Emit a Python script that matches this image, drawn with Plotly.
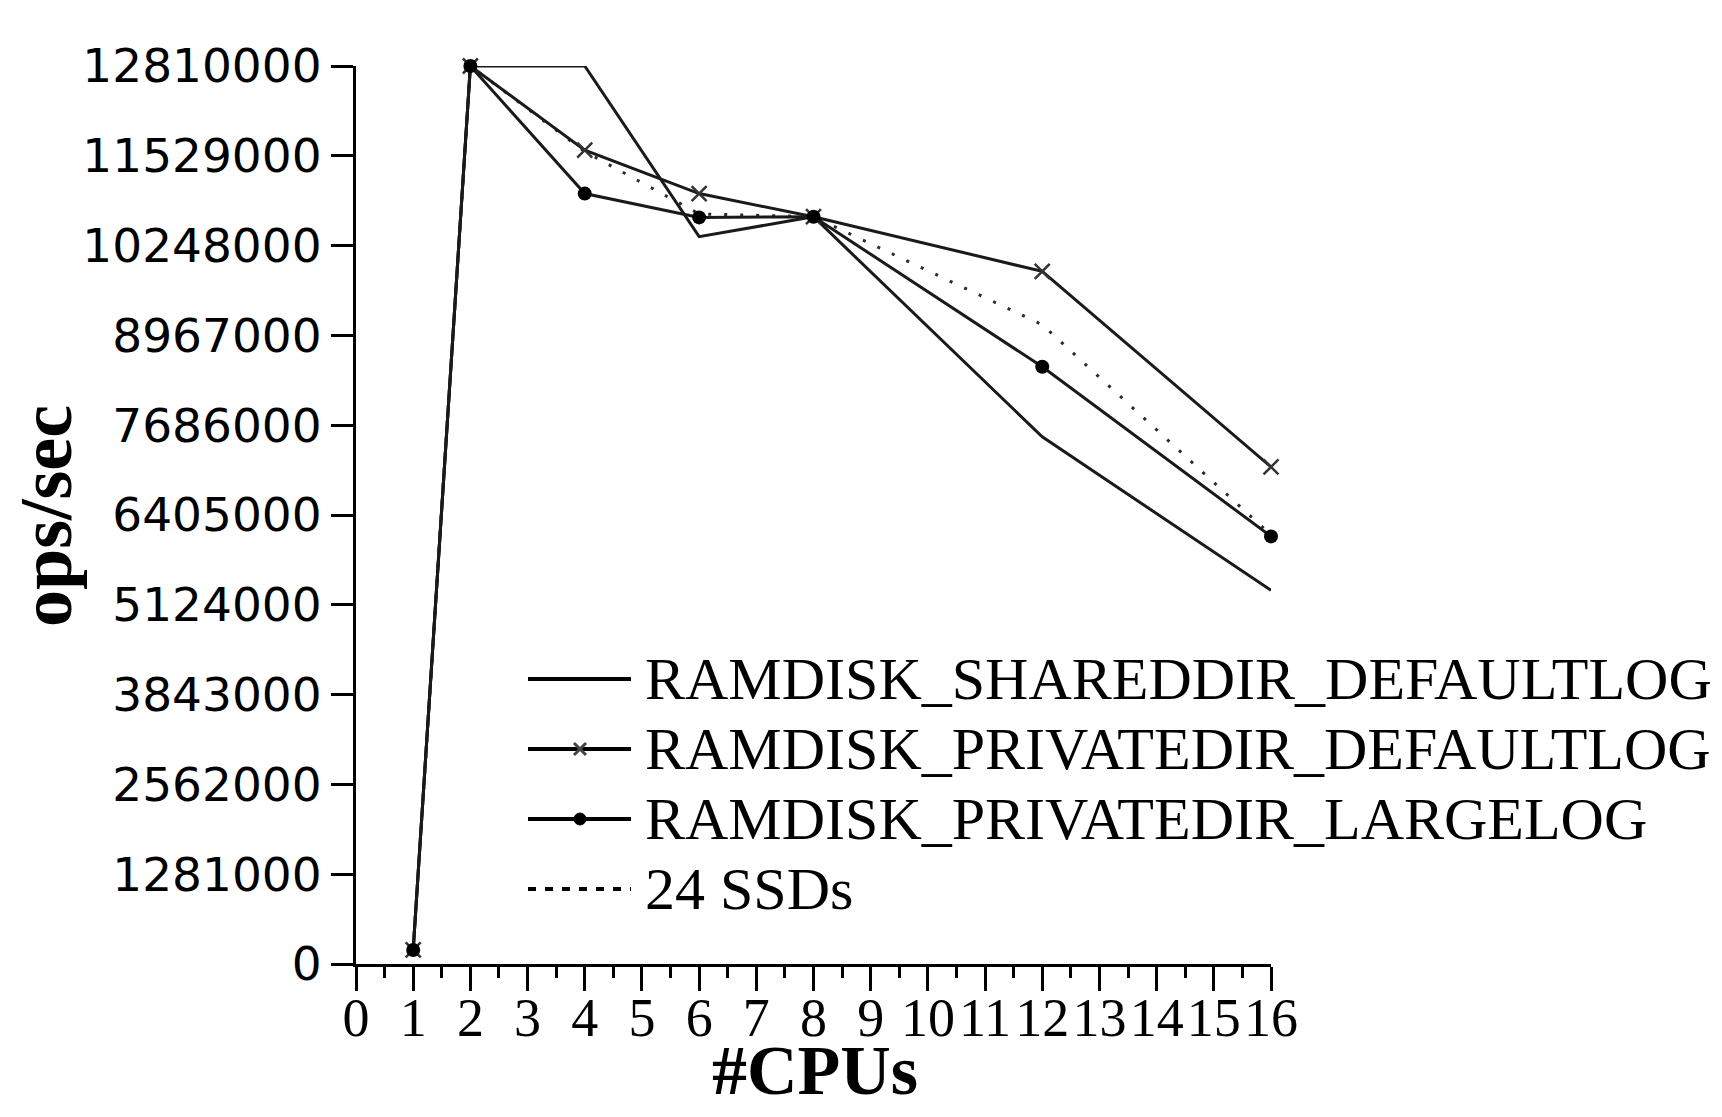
import plotly.graph_objects as go

# Throughput (ops/sec) measured at each CPU count
cpus = [1, 2, 4, 6, 8, 12, 16]
shareddir_defaultlog = [200000, 12810000, 12810000, 10375000, 10660000, 7520000, 5330000]
privatedir_defaultlog = [200000, 12810000, 11610000, 10990000, 10660000, 9880000, 7090000]
privatedir_largelog = [200000, 12810000, 10990000, 10650000, 10660000, 8520000, 6100000]
ssds_24 = [200000, 12810000, 11590000, 10700000, 10660000, 9120000, 6120000]

series_names = [
    "RAMDISK_SHAREDDIR_DEFAULTLOG",
    "RAMDISK_PRIVATEDIR_DEFAULTLOG",
    "RAMDISK_PRIVATEDIR_LARGELOG",
    "24 SSDs",
]

y_tickvals = [0, 1281000, 2562000, 3843000, 5124000, 6405000,
              7686000, 8967000, 10248000, 11529000, 12810000]
y_ticktext = [str(v) for v in y_tickvals]
x_tickvals = list(range(0, 17))
x_ticktext = [str(v) for v in x_tickvals]

# page geometry (pixels)
W, H = 1722, 1117
L, R, T, B = 356, 451, 66, 153
PW, PH = W - L - R, H - T - B

SERIF = "Liberation Serif, Times New Roman, serif"
SANS = "DejaVu Sans, Verdana, sans-serif"
LINE = "#1a1a1a"


def px(xp):
    return (xp - L) / PW


def py(yp):
    return (T + PH - yp) / PH


fig = go.Figure()

fig.add_trace(go.Scatter(
    x=cpus, y=shareddir_defaultlog, name=series_names[0], mode="lines",
    line=dict(color=LINE, width=3), showlegend=False))
fig.add_trace(go.Scatter(
    x=cpus, y=ssds_24, name=series_names[3], mode="lines",
    line=dict(color="#2a2a2a", width=3, dash="3px,13px"), showlegend=False))
fig.add_trace(go.Scatter(
    x=cpus, y=privatedir_defaultlog, name=series_names[1], mode="lines+markers",
    line=dict(color=LINE, width=3),
    marker=dict(symbol="x-thin", size=15, line=dict(color="#333333", width=2.5)),
    cliponaxis=False, showlegend=False))
fig.add_trace(go.Scatter(
    x=cpus, y=privatedir_largelog, name=series_names[2], mode="lines+markers",
    line=dict(color=LINE, width=3),
    marker=dict(symbol="circle", size=14, color="black"),
    cliponaxis=False, showlegend=False))

# legend: sample line + label for each series
legend_rows = [679, 749, 819, 889]
sample_x0, sample_x1, sample_mid = 528, 631, 580
shapes = []
annotations = []
for i, name in enumerate(series_names):
    yy = legend_rows[i]
    dash = "8px,9px" if i == 3 else "solid"
    shapes.append(dict(type="line", xref="paper", yref="paper",
                       x0=px(sample_x0), x1=px(sample_x1), y0=py(yy), y1=py(yy),
                       line=dict(color="black", width=4, dash=dash)))
    annotations.append(dict(xref="paper", yref="paper", x=px(643), y=py(yy),
                            xanchor="left", yanchor="middle", showarrow=False,
                            text=name, font=dict(family=SERIF, size=60, color="black")))

# legend marker glyphs
s = 6
xm, ym = sample_mid, legend_rows[1]
shapes.append(dict(type="path", xref="paper", yref="paper",
                   path=(f"M {px(xm - s)},{py(ym - s)} L {px(xm + s)},{py(ym + s)} "
                         f"M {px(xm - s)},{py(ym + s)} L {px(xm + s)},{py(ym - s)}"),
                   line=dict(color="#444444", width=3)))
r = 6
xm, ym = sample_mid, legend_rows[2]
shapes.append(dict(type="circle", xref="paper", yref="paper",
                   x0=px(xm - r), x1=px(xm + r), y0=py(ym + r), y1=py(ym - r),
                   fillcolor="black", line=dict(color="black", width=1)))

# axis titles
annotations.append(dict(xref="paper", yref="paper", x=px(46), y=py(516),
                        xanchor="center", yanchor="middle", showarrow=False,
                        textangle=-90, text="ops/sec",
                        font=dict(family=SERIF, size=74, color="black", weight="bold")))
annotations.append(dict(xref="paper", yref="paper", x=px(815), y=py(1070),
                        xanchor="center", yanchor="middle", showarrow=False,
                        text="#CPUs",
                        font=dict(family=SERIF, size=70, color="black", weight="bold")))

fig.update_layout(
    width=W, height=H,
    margin=dict(l=L, r=R, t=T, b=B, pad=0),
    paper_bgcolor="white", plot_bgcolor="white",
    showlegend=False,
    shapes=shapes, annotations=annotations,
    xaxis=dict(
        range=[0, 16], tickmode="array", tickvals=x_tickvals, ticktext=x_ticktext,
        tickangle=0, ticklabelstandoff=-20,
        showgrid=False, zeroline=False, showline=True, linecolor="black", linewidth=3,
        ticks="outside", ticklen=24, tickwidth=3, tickcolor="black",
        tickfont=dict(family=SERIF, size=54, color="black"),
        minor=dict(ticks="outside", tick0=0.5, dtick=1, ticklen=11, tickwidth=3,
                   tickcolor="black", showgrid=False),
    ),
    yaxis=dict(
        range=[0, 12810000], tickmode="array", tickvals=y_tickvals, ticktext=y_ticktext,
        showgrid=False, zeroline=False, showline=True, linecolor="black", linewidth=3,
        ticks="outside", ticklen=22, tickwidth=3, tickcolor="black",
        tickfont=dict(family=SANS, size=47, color="black"),
    ),
)

fig.write_html("out.html")
